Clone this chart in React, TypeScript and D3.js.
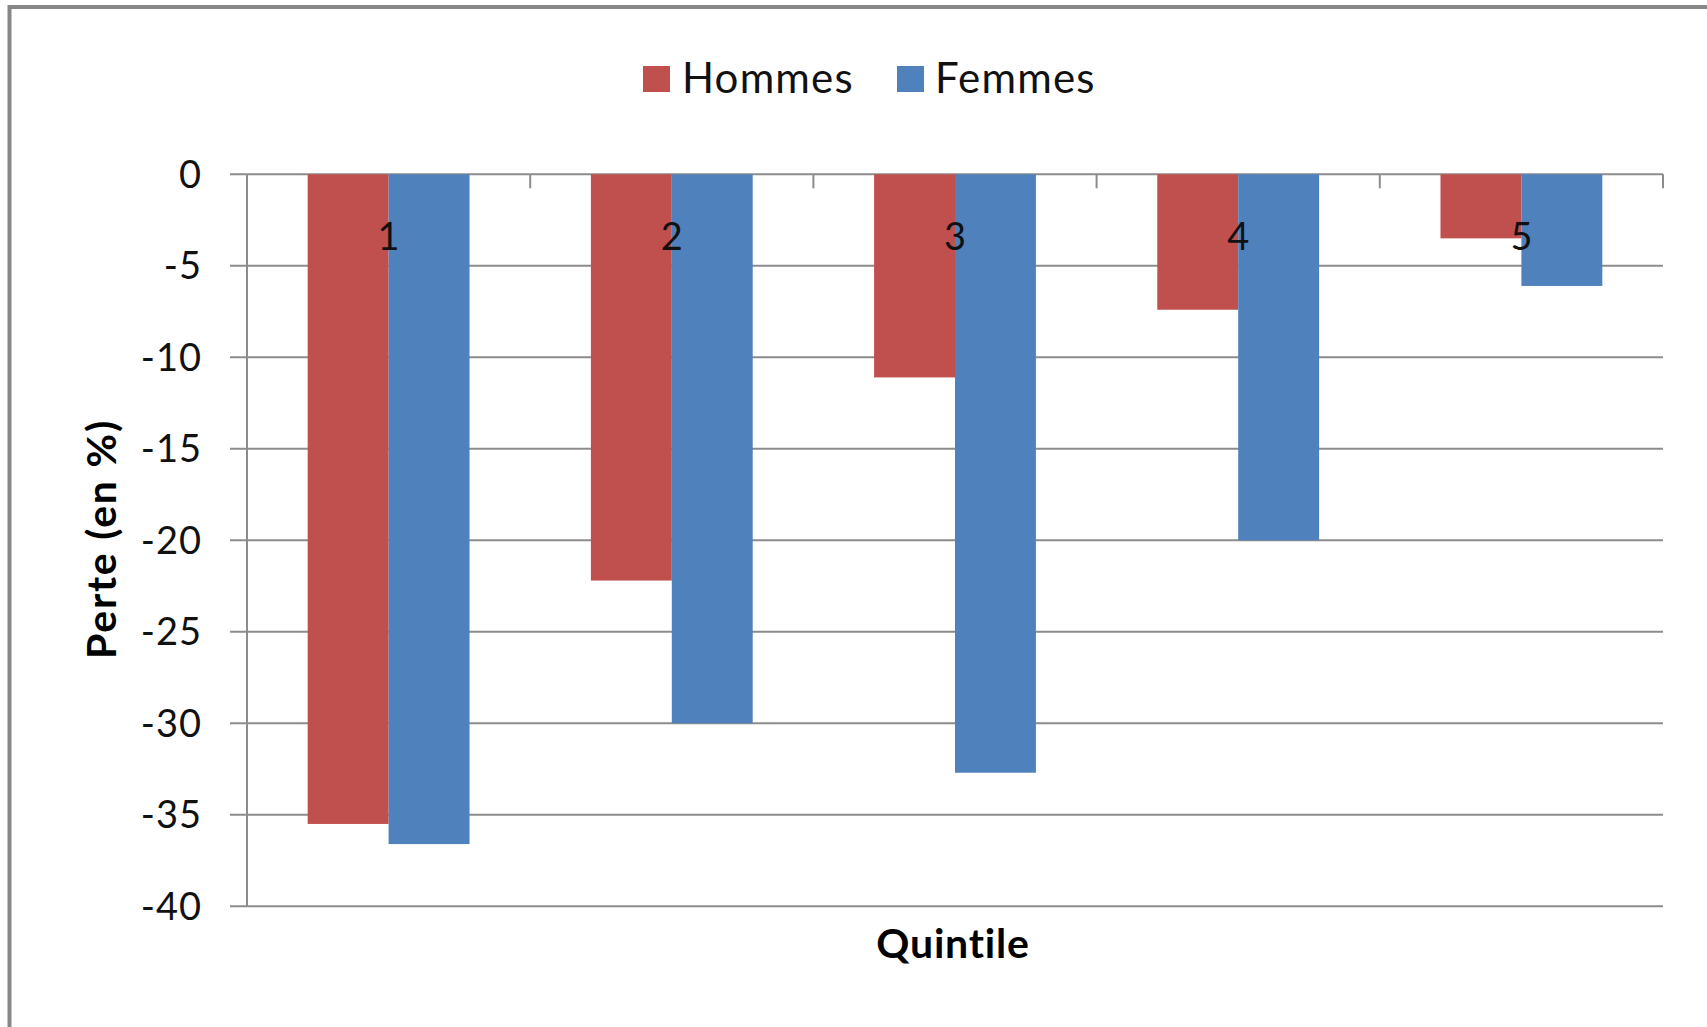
import * as d3 from 'd3';

const categories = ['1', '2', '3', '4', '5'];
const seriesNames = ['Hommes', 'Femmes'];
const hommes = [-35.5, -22.2, -11.1, -7.4, -3.5];
const femmes = [-36.6, -30.0, -32.7, -20.0, -6.1];
const yTicks = [0, -5, -10, -15, -20, -25, -30, -35, -40];

const colors = ['#C0504D', '#4F81BD'];
const font = 'Lato, "Open Sans", sans-serif';

const App = () => {
  const width = 1707;
  const height = 1027;

  // plot area
  const left = 247;
  const right = 1663;
  const top = 174.3;
  const bottom = 906.3;

  const y = d3.scaleLinear().domain([-40, 0]).range([bottom, top]);

  // Excel style: gap width 150% of a bar
  const gap = 1.5 / 3.5;
  const x0 = d3
    .scaleBand()
    .domain(categories)
    .range([left, right])
    .paddingInner(gap)
    .paddingOuter(gap / 2);
  const x1 = d3.scaleBand().domain(seriesNames).range([0, x0.bandwidth()]);

  const values = [hommes, femmes];
  const step = x0.step();

  return (
    <svg
      width={width}
      height={height}
      style={{ position: 'absolute', left: 0, top: 0, background: '#fff' }}
    >
      <rect x={0} y={0} width={width} height={height} fill="#fff" />
      {/* outer frame, cut off at right and bottom */}
      <rect
        x={9.5}
        y={7}
        width={width + 20}
        height={height + 20}
        fill="none"
        stroke="#878787"
        strokeWidth={4}
      />

      {/* gridlines + y ticks */}
      <g stroke="#8c8c8c" strokeWidth={2}>
        {yTicks.map((t) => (
          <line key={t} x1={left - 17} x2={right} y1={y(t)} y2={y(t)} />
        ))}
        <line x1={left} x2={left} y1={top} y2={bottom} />
        {d3.range(categories.length + 1).map((i) => (
          <line
            key={i}
            x1={left + i * step}
            x2={left + i * step}
            y1={y(0)}
            y2={y(0) + 14}
          />
        ))}
      </g>

      {/* bars */}
      {values.map((vals, s) => (
        <g key={seriesNames[s]} fill={colors[s]}>
          {vals.map((v, i) => (
            <rect
              key={i}
              x={(x0(categories[i]) ?? 0) + (x1(seriesNames[s]) ?? 0)}
              y={y(0)}
              width={x1.bandwidth()}
              height={y(v) - y(0)}
            />
          ))}
        </g>
      ))}

      {/* y tick labels */}
      <g
        fontFamily={font}
        fontSize={38}
        fill="#111"
        textAnchor="end"
        letterSpacing={1}
      >
        {yTicks.map((t) => (
          <text key={t} x={202} y={y(t)} dy="0.35em">
            {t}
          </text>
        ))}
      </g>

      {/* category labels */}
      <g fontFamily={font} fontSize={38} fill="#111" textAnchor="middle">
        {categories.map((c) => (
          <text key={c} x={(x0(c) ?? 0) + x0.bandwidth() / 2} y={y(0) + 76}>
            {c}
          </text>
        ))}
      </g>

      {/* axis titles */}
      <text
        x={953}
        y={958}
        textAnchor="middle"
        fontFamily={font}
        fontWeight="bold"
        fontSize={41}
        letterSpacing={0.8}
        fill="#000"
      >
        Quintile
      </text>
      <text
        transform="translate(116,539) rotate(-90)"
        textAnchor="middle"
        fontFamily={font}
        fontWeight="bold"
        fontSize={41}
        letterSpacing={1.8}
        fill="#000"
      >
        Perte (en %)
      </text>

      {/* legend */}
      <g fontFamily={font} fontSize={42} fill="#111" letterSpacing={1.2}>
        <rect x={643} y={66} width={27} height={26} fill={colors[0]} />
        <text x={682} y={93}>
          {seriesNames[0]}
        </text>
        <rect x={897} y={66} width={27} height={26} fill={colors[1]} />
        <text x={935} y={93}>
          {seriesNames[1]}
        </text>
      </g>
    </svg>
  );
};

export default App;
